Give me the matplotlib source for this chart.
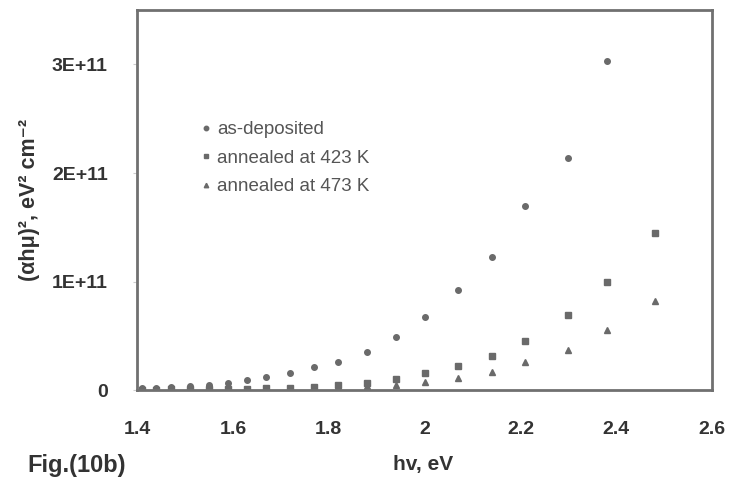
import matplotlib
matplotlib.use("Agg")
import matplotlib.pyplot as plt
from matplotlib.ticker import FixedLocator, FixedFormatter

# photon energy, eV
energy = [1.41, 1.44, 1.47, 1.51, 1.55, 1.59, 1.63, 1.67, 1.72, 1.77,
          1.82, 1.88, 1.94, 2.00, 2.07, 2.14, 2.21, 2.30, 2.38, 2.48]

# (alpha h nu)^2 in units of 1E+11
as_deposited = [0.015, 0.02, 0.025, 0.035, 0.045, 0.065, 0.09, 0.12, 0.155, 0.21,
                0.26, 0.35, 0.49, 0.67, 0.92, 1.23, 1.70, 2.14, 3.03]
annealed_423 = [0.004, 0.005, 0.006, 0.007, 0.008, 0.01, 0.012, 0.015, 0.02, 0.03,
                0.045, 0.065, 0.10, 0.155, 0.22, 0.31, 0.45, 0.69, 1.00, 1.45]
annealed_473 = [0.002, 0.003, 0.003, 0.004, 0.005, 0.006, 0.007, 0.008, 0.012, 0.015,
                0.025, 0.035, 0.05, 0.07, 0.11, 0.165, 0.26, 0.37, 0.55, 0.82]

xticks = [1.4, 1.6, 1.8, 2.0, 2.2, 2.4, 2.6]
xtick_labels = ["1.4", "1.6", "1.8", "2", "2.2", "2.4", "2.6"]
yticks = [0, 1e11, 2e11, 3e11]
ytick_labels = ["0", "1E+11", "2E+11", "3E+11"]

plt.rcParams['font.family'] = ['Liberation Sans', 'DejaVu Sans']
txt = '#333333'
mk = '#6a6a6a'

fig = plt.figure(figsize=(7.29, 4.87), dpi=100)
ax = fig.add_axes([0.188, 0.199, 0.789, 0.780])

scale = 1e11
ax.plot(energy[:len(as_deposited)], [v * scale for v in as_deposited], 'o',
        color=mk, ms=4, mec=mk, label='as-deposited')
ax.plot(energy, [v * scale for v in annealed_423], 's',
        color=mk, ms=3.8, mec=mk, label='annealed at 423 K')
ax.plot(energy, [v * scale for v in annealed_473], '^',
        color=mk, ms=4, mec=mk, label='annealed at 473 K')

ax.set_xlim(1.4, 2.6)
ax.set_ylim(0, 3.5e11)
ax.xaxis.set_major_locator(FixedLocator(xticks))
ax.xaxis.set_major_formatter(FixedFormatter(xtick_labels))
ax.yaxis.set_major_locator(FixedLocator(yticks))
ax.yaxis.set_major_formatter(FixedFormatter(ytick_labels))

for s in ax.spines.values():
    s.set_color('#707070')
    s.set_linewidth(2)

ax.tick_params(axis='x', length=0, pad=22, labelsize=14, colors=txt)
ax.tick_params(axis='y', length=3, pad=18, labelsize=14, colors=txt, color='#cccccc')
for lab in ax.get_xticklabels() + ax.get_yticklabels():
    lab.set_fontweight('bold')

ax.set_xlabel('hv, eV', fontsize=15, fontweight='bold', color=txt)
ax.xaxis.set_label_coords(0.497, -0.17)
ax.set_ylabel('(αhμ)², eV² cm⁻²', fontsize=15.5, fontweight='bold', color=txt,
              labelpad=9)
fig.text(0.037, 0.045, 'Fig.(10b)', fontsize=17, fontweight='bold', color=txt,
         va='center')

leg = ax.legend(loc='upper left', bbox_to_anchor=(0.081, 0.752), frameon=False,
                fontsize=13.5, handlelength=0.6, handletextpad=0.3,
                labelspacing=0.6, markerscale=0.8)
for t in leg.get_texts():
    t.set_color('#555555')

fig.savefig('out.png', dpi=100)
